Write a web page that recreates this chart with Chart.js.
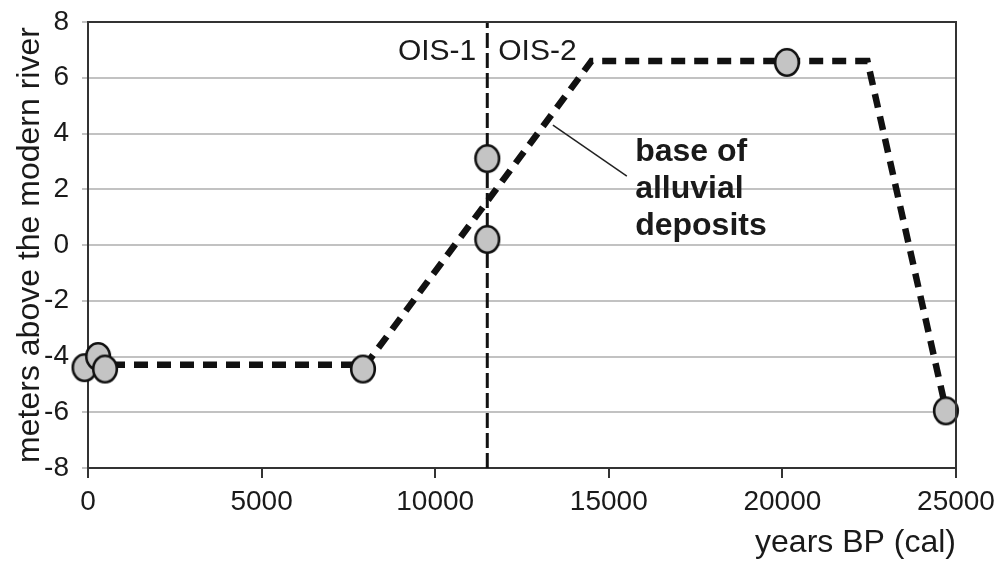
<!DOCTYPE html>
<html>
<head>
<meta charset="utf-8">
<script src="https://cdn.jsdelivr.net/npm/chart.js@4/dist/chart.umd.min.js"></script>
<style>
  body { margin: 0; background: #fff; }
  #wrap { width: 998px; height: 563px; }
</style>
</head>
<body>
<div id="wrap"><canvas id="canvas"></canvas></div>
<script>
// dated samples (years BP cal, meters above modern river)
var sampleYears = [-100, 290, 490, 7920, 11500, 11500, 20130, 24710];
var sampleHeight = [-4.4, -4.0, -4.45, -4.45, 3.1, 0.2, 6.55, -5.95];

// interpreted base of alluvial deposits
var baseYears = [0, 8000, 14500, 22450, 24710];
var baseHeight = [-4.3, -4.3, 6.6, 6.6, -5.9];

// OIS-1 / OIS-2 boundary
var oisYears = [11500, 11500];
var oisHeight = [-8, 8];

var xTicks = [0, 5000, 10000, 15000, 20000, 25000];
var yTicks = [-8, -6, -4, -2, 0, 2, 4, 6, 8];

var textColor = '#1a1a1a';
var fontName = "'Liberation Sans', Arial, sans-serif";

function toPoints(xs, ys) {
	var pts = [];
	for (var i = 0; i < xs.length; i++) {
		pts.push({x: xs[i], y: ys[i]});
	}
	return pts;
}

// grey ellipse marker, a bit taller than wide like the original
function makeMarker() {
	var c = document.createElement('canvas');
	c.width = 28;
	c.height = 31;
	var g = c.getContext('2d');
	g.beginPath();
	g.ellipse(14, 15.5, 11.8, 13.2, 0, 0, Math.PI * 2);
	g.fillStyle = '#c4c4c4';
	g.fill();
	g.lineWidth = 2.6;
	g.strokeStyle = '#111';
	g.stroke();
	return c;
}

var framePlugin = {
	id: 'frame',
	afterDatasetsDraw: function(chart) {
		var a = chart.chartArea;
		var g = chart.ctx;
		var xs = chart.scales.x;
		var ys = chart.scales.y;
		g.save();
		// top and right edges of the plot box
		g.strokeStyle = '#333';
		g.lineWidth = 2;
		g.beginPath();
		g.moveTo(a.left, a.top);
		g.lineTo(a.right, a.top);
		g.lineTo(a.right, a.bottom);
		g.stroke();

		g.fillStyle = textColor;
		g.font = '30px ' + fontName;
		g.textBaseline = 'alphabetic';
		var bx = xs.getPixelForValue(11500);
		var by = ys.getPixelForValue(6.64);
		g.textAlign = 'right';
		g.fillText('OIS-1', bx - 11, by);
		g.textAlign = 'left';
		g.fillText('OIS-2', bx + 11, by);

		// leader line to the label
		g.strokeStyle = '#222';
		g.lineWidth = 1.5;
		g.beginPath();
		g.moveTo(xs.getPixelForValue(13390), ys.getPixelForValue(4.3));
		g.lineTo(xs.getPixelForValue(15520), ys.getPixelForValue(2.47));
		g.stroke();

		g.font = 'bold 32px ' + fontName;
		g.textAlign = 'left';
		var tx = xs.getPixelForValue(15760);
		g.fillText('base of', tx, ys.getPixelForValue(3.01));
		g.fillText('alluvial', tx, ys.getPixelForValue(1.68));
		g.fillText('deposits', tx, ys.getPixelForValue(0.35));
		g.restore();
	}
};

var ctx = document.getElementById('canvas');

window.myChart = new Chart(ctx, {
	type: 'scatter',
	data: {
		datasets: [{
			label: 'samples',
			data: toPoints(sampleYears, sampleHeight),
			pointStyle: makeMarker(),
			pointRadius: 12,
			showLine: false,
			clip: false,
			order: 0
		}, {
			label: 'base of alluvial deposits',
			data: toPoints(baseYears, baseHeight),
			showLine: true,
			borderColor: '#111',
			borderWidth: 6.5,
			borderDash: [14, 9],
			pointRadius: 0,
			tension: 0,
			clip: false,
			order: 1
		}, {
			label: 'OIS boundary',
			data: toPoints(oisYears, oisHeight),
			showLine: true,
			borderColor: '#111',
			borderWidth: 3,
			borderDash: [15, 5],
			pointRadius: 0,
			order: 2
		}]
	},
	options: {
		responsive: true,
		maintainAspectRatio: false,
		animation: false,
		layout: { padding: { top: 22, right: 42, left: 0, bottom: 0 } },
		plugins: {
			legend: { display: false },
			tooltip: { enabled: false }
		},
		scales: {
			x: {
				type: 'linear',
				min: 0,
				max: 25000,
				afterFit: function(s) {
					s.height = 95;
					s.paddingLeft = 0;
					s.paddingRight = 0;
				},
				afterBuildTicks: function(s) {
					s.ticks = xTicks.map(function(v) { return {value: v}; });
				},
				grid: { drawOnChartArea: false, drawTicks: true, tickLength: 10, color: '#333', lineWidth: 2 },
				border: { color: '#333', width: 2 },
				ticks: {
					color: textColor,
					padding: 7,
					maxRotation: 0,
					font: { family: fontName, size: 28 },
					callback: function(v) { return String(v); }
				},
				title: {
					display: true,
					text: 'years BP (cal)',
					align: 'end',
					color: textColor,
					font: { family: fontName, size: 32, lineHeight: 1 },
					padding: { top: 0, bottom: 4 }
				}
			},
			y: {
				type: 'linear',
				min: -8,
				max: 8,
				afterFit: function(s) {
					s.width = 88;
					s.paddingTop = 0;
					s.paddingBottom = 0;
				},
				afterBuildTicks: function(s) {
					s.ticks = yTicks.map(function(v) { return {value: v}; });
				},
				grid: { color: '#c2c2c2', lineWidth: 2, tickLength: 6 },
				border: { color: '#333', width: 2 },
				ticks: {
					color: textColor,
					padding: 13,
					font: { family: fontName, size: 28 }
				},
				title: {
					display: true,
					text: 'meters above the modern river',
					color: textColor,
					font: { family: fontName, size: 32, lineHeight: 1 },
					padding: { top: 14, bottom: 0 }
				}
			}
		}
	},
	plugins: [framePlugin]
});
</script>
</body>
</html>
